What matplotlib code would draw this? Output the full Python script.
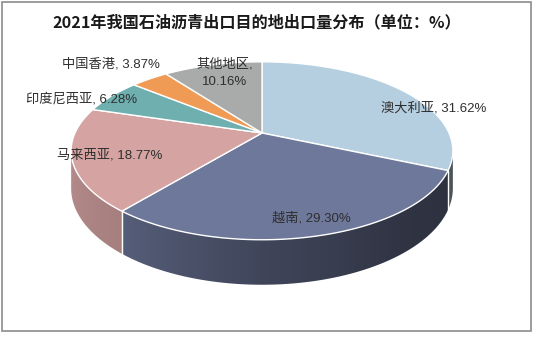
import numpy as np
import matplotlib
matplotlib.use("Agg")
import matplotlib.pyplot as plt
from matplotlib.patches import Polygon, Rectangle
from matplotlib.colors import to_rgb

plt.rcParams['font.family'] = ['Liberation Sans', 'Noto Sans CJK SC', 'DejaVu Sans']

# 2021 export destinations, share in percent (clockwise from 12 o'clock)
countries = ['澳大利亚', '越南', '马来西亚', '印度尼西亚', '中国香港', '其他地区']
shares = [31.62, 29.30, 18.77, 6.28, 3.87, 10.16]
colors = ['#b6cfe0', '#6e789b', '#d4a3a2', '#6fafaf', '#f09b55', '#a8aba9']

title = '2021年我国石油沥青出口目的地出口量分布（单位：%）'

# pie geometry in pixel units
CX, CY = 262, 133
A, B, K = 187, 85.4, 0.2
DEPTH = 36

# label anchors (pixels)
label_pos = [(434, 108), (311, 218), (110, 155), (82, 99), (111, 64), (225, 73)]


def proj(theta, drop=0.0):
    t = np.radians(theta)
    u, v = np.sin(t), np.cos(t)
    w = 1 + K * v
    return CX + A * u / w, CY - B * v / w + drop / w


def side_shade(theta):
    return np.interp(theta, [101, 140, 180, 219, 259], [0.40, 0.43, 0.58, 0.78, 0.86])


fig = plt.figure(figsize=(5.35, 3.37), dpi=100)
ax = fig.add_axes([0, 0, 1, 1])
ax.set_xlim(0, 535)
ax.set_ylim(337, 0)
ax.axis('off')

bounds = np.concatenate([[0], np.cumsum(shares)]) / sum(shares) * 360
lo_vis = np.degrees(np.arccos(-K))          # rightmost outline point
hi_vis = 360 - lo_vis                         # leftmost outline point

# x -> angle lookup along the front of the rim
th_grid = np.linspace(lo_vis, hi_vis, 400)
x_grid = np.array([proj(t)[0] for t in th_grid])

# side walls (front half only) with a horizontal shading gradient
for i, c in enumerate(colors):
    a0, a1 = max(bounds[i], lo_vis), min(bounds[i + 1], hi_vis)
    if a1 <= a0:
        continue
    arc = np.linspace(a0, a1, 100)
    pts = [proj(a) for a in arc] + [proj(a, DEPTH) for a in arc[::-1]]
    wall = Polygon(pts, closed=True, facecolor='none', edgecolor='none')
    ax.add_patch(wall)
    xs = np.array([p[0] for p in pts])
    ys = np.array([p[1] for p in pts])
    x0, x1 = xs.min() - 1, xs.max() + 1
    y0, y1 = ys.min() - 1, ys.max() + 1
    cols = np.linspace(x0, x1, 200)
    th = np.interp(cols, x_grid[::-1], th_grid[::-1])
    shade = side_shade(th)[None, :, None] * np.array(to_rgb(c))[None, None, :]
    img = np.repeat(shade, 2, axis=0)
    im = ax.imshow(img, extent=(x0, x1, y1, y0), aspect='auto', interpolation='bilinear')
    im.set_clip_path(wall)

ax.set_xlim(0, 535)
ax.set_ylim(337, 0)

# white seams where slices meet on the wall
for b in bounds[1:-1]:
    if lo_vis < b < hi_vis:
        x0, y0 = proj(b)
        x1, y1 = proj(b, DEPTH)
        ax.plot([x0, x1], [y0, y1], color='white', lw=1.0)

# top faces
for i, c in enumerate(colors):
    arc = np.linspace(bounds[i], bounds[i + 1], 120)
    pts = [(CX, CY)] + [proj(a) for a in arc]
    ax.add_patch(Polygon(pts, closed=True, facecolor=c, edgecolor='white', lw=1.0))

# data labels
for i, (name, val) in enumerate(zip(countries, shares)):
    x, y = label_pos[i]
    if name == '其他地区':
        txt = f'{name},\n{val:.2f}%'
    else:
        txt = f'{name}, {val:.2f}%'
    ax.text(x, y, txt, ha='center', va='center', fontsize=9.5, color='#2e2e2e',
            linespacing=1.65)

ax.text(257, 22, title, ha='center', va='center', fontsize=11.6, fontweight='bold',
        color='#1a1a1a', family=['Noto Sans CJK SC', 'DejaVu Sans'])

# frame around the chart
ax.add_patch(Rectangle((2, 2), 529, 329, fill=False, edgecolor='#8c8c8c', lw=1.2))

fig.savefig('out.png', dpi=100)
